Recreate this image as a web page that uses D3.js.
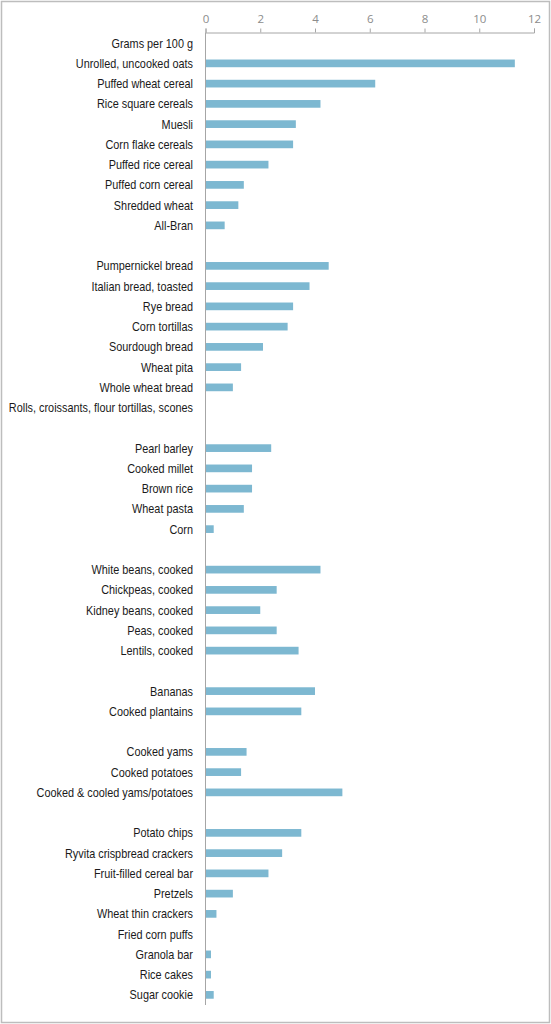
<!DOCTYPE html>
<html>
<head>
<meta charset="utf-8">
<script src="https://cdn.jsdelivr.net/npm/d3@7"></script>
<style>
  html, body { margin: 0; padding: 0; background: #fff; }
  svg { display: block; }
</style>
</head>
<body>
<svg id="chart"></svg>
<script>
// rows top to bottom; "" are the spacer rows between food groups
const categories = [
  "Grams per 100 g", "Unrolled, uncooked oats", "Puffed wheat cereal", "Rice square cereals",
  "Muesli", "Corn flake cereals", "Puffed rice cereal", "Puffed corn cereal", "Shredded wheat", "All-Bran",
  "",
  "Pumpernickel bread", "Italian bread, toasted", "Rye bread", "Corn tortillas", "Sourdough bread",
  "Wheat pita", "Whole wheat bread", "Rolls, croissants, flour tortillas, scones",
  "",
  "Pearl barley", "Cooked millet", "Brown rice", "Wheat pasta", "Corn",
  "",
  "White beans, cooked", "Chickpeas, cooked", "Kidney beans, cooked", "Peas, cooked", "Lentils, cooked",
  "",
  "Bananas", "Cooked plantains",
  "",
  "Cooked yams", "Cooked potatoes", "Cooked & cooled yams/potatoes",
  "",
  "Potato chips", "Ryvita crispbread crackers", "Fruit-filled cereal bar", "Pretzels",
  "Wheat thin crackers", "Fried corn puffs", "Granola bar", "Rice cakes", "Sugar cookie"
];

const grams = [
  null, 11.3, 6.2, 4.2,
  3.3, 3.2, 2.3, 1.4, 1.2, 0.7,
  null,
  4.5, 3.8, 3.2, 3.0, 2.1,
  1.3, 1.0, 0,
  null,
  2.4, 1.7, 1.7, 1.4, 0.3,
  null,
  4.2, 2.6, 2.0, 2.6, 3.4,
  null,
  4.0, 3.5,
  null,
  1.5, 1.3, 5.0,
  null,
  3.5, 2.8, 2.3, 1.0,
  0.4, 0, 0.2, 0.2, 0.3
];

const xTicks = [0, 2, 4, 6, 8, 10, 12];

const W = 551, H = 1024;
const svg = d3.select("#chart").attr("width", W).attr("height", H);

// outer frame
svg.append("rect")
  .attr("x", 1.5).attr("y", 1.5)
  .attr("width", W - 3).attr("height", H - 3)
  .attr("fill", "#fff")
  .attr("stroke", "#bdbdbd")
  .attr("stroke-width", 1.5);

const x = d3.scaleLinear().domain([0, 12]).range([205.5, 534]);

const y = d3.scaleBand()
  .domain(d3.range(categories.length))
  .range([33, 1005])
  .paddingInner(0.62)
  .paddingOuter(0.31);

// bars
svg.append("g")
  .selectAll("rect")
  .data(grams.map((v, i) => ({ v, i })).filter(d => d.v))
  .join("rect")
  .attr("x", x(0))
  .attr("y", d => y(d.i))
  .attr("width", d => x(d.v) - x(0))
  .attr("height", y.bandwidth())
  .attr("fill", "#7db8d1");

// top axis
const xAxis = svg.append("g")
  .attr("transform", "translate(0,32.5)")
  .call(d3.axisTop(x).tickValues(xTicks).tickSize(4).tickSizeOuter(4).tickFormat(d3.format("d")));

xAxis.select(".domain").attr("stroke", "#a6a6a6");
xAxis.selectAll(".tick line").attr("stroke", "#a6a6a6");
xAxis.selectAll(".tick text")
  .attr("y", -10)
  .attr("fill", "#8c8c8c")
  .style("font-family", "'Open Sans', 'Liberation Sans', sans-serif")
  .style("font-size", "11.5px");

// vertical category axis line
svg.append("line")
  .attr("x1", x(0)).attr("x2", x(0))
  .attr("y1", 32.5).attr("y2", 1005)
  .attr("stroke", "#a6a6a6");

// category labels (the source font is narrower than Arial, so squeeze a bit)
svg.append("g")
  .selectAll("text")
  .data(categories.map((c, i) => ({ c, i })).filter(d => d.c))
  .join("text")
  .attr("transform", d => `translate(193,${y(d.i) + y.bandwidth() / 2}) scale(0.87,1)`)
  .attr("dy", "0.35em")
  .attr("text-anchor", "end")
  .attr("fill", "#1a1a1a")
  .style("font-family", "'Liberation Sans', Arial, sans-serif")
  .style("font-size", "12.5px")
  .text(d => d.c);
</script>
</body>
</html>
